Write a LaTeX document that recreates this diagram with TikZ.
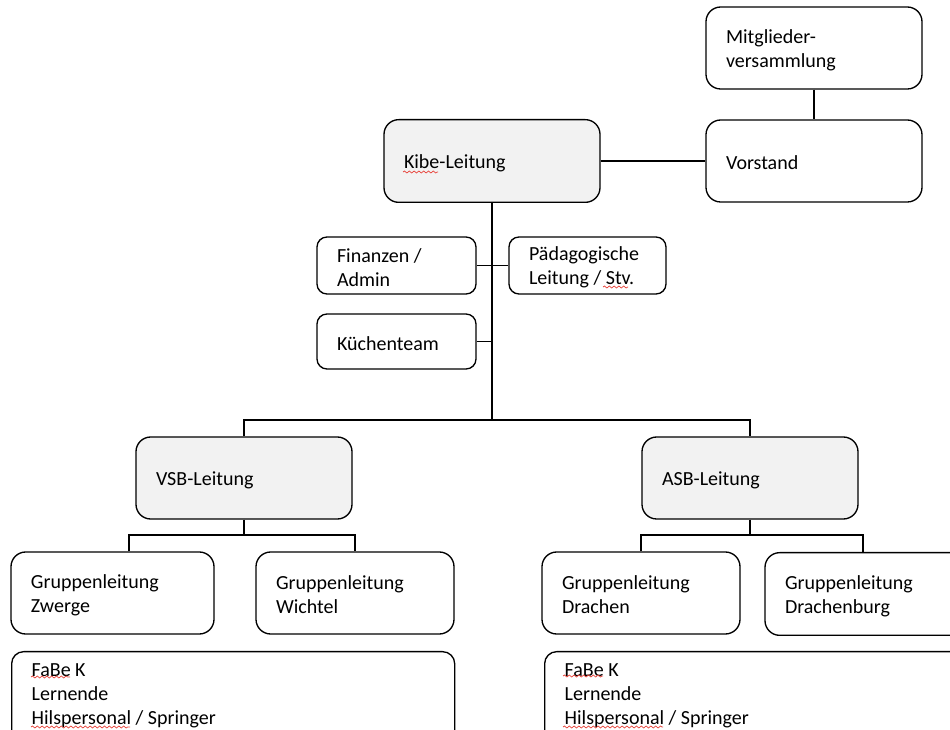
\documentclass[tikz,border=0pt]{standalone}
\usepackage{fontspec}
\setmainfont{Carlito}
\usetikzlibrary{decorations.pathmorphing}
\definecolor{boxgray}{HTML}{F2F2F2}
\definecolor{spellred}{HTML}{E8473F}
\tikzset{
  box/.style={draw=black, line width=1pt, rounded corners=11pt, align=flush left,
    inner xsep=15pt, inner ysep=3pt, text height=13.5pt, font=\fontsize{15}{18}\selectfont},
  smallbox/.style={box, rounded corners=7.5pt},
  listbox/.style={draw=black, line width=1pt, rounded corners=9pt, align=flush left,
    inner xsep=15pt, inner ysep=9pt, anchor=north west, text depth=90pt,
    font=\fontsize{15}{18}\selectfont},
  grey/.style={fill=boxgray},
  conn/.style={draw=black, line width=0.8pt},
  trunk/.style={draw=black, line width=1.9pt},
  spell/.style={draw=spellred, line width=0.55pt, decorate,
    decoration={snake, amplitude=0.75pt, segment length=3.6pt}},
}
\begin{document}
\begin{tikzpicture}[x=0.75pt, y=-0.75pt]
\useasboundingbox (0,0) rectangle (950,730);
\clip (0,0) rectangle (950,730);
\fill[white] (0,0) rectangle (950,730);

% top
\node[box, text width=132pt, minimum height=61.5pt] (mv) at (814,48) {Mitglieder-\\versammlung};
\node[box, text width=132pt, minimum height=61.5pt] (vorstand) at (814,161) {Vorstand};
\node[box, grey, text width=132pt, minimum height=62pt] (kibe) at (492,161) {Kibe-Leitung};

% staff
\node[smallbox, text width=89.25pt, minimum height=42.75pt] (fin) at (396.5,265.5) {Finanzen /\\Admin};
\node[smallbox, text width=87.75pt, minimum height=42.75pt] (paed) at (587.5,265.5) {Pädagogische\\Leitung / Stv.};
\node[smallbox, text width=89.25pt, minimum height=41.25pt] (kue) at (396.5,341.5) {Küchenteam};

% section heads
\node[box, grey, text width=132pt, minimum height=61.5pt] (vsb) at (244,478) {VSB-Leitung};
\node[box, grey, text width=132pt, minimum height=61.5pt] (asb) at (750,478) {ASB-Leitung};

% groups
\node[box, text width=122.25pt, minimum height=61.5pt] (zw) at (112.5,593) {Gruppenleitung\\Zwerge};
\node[box, text width=118.5pt, minimum height=61.5pt] (wi) at (355,593) {Gruppenleitung\\Wichtel};
\node[box, text width=118.5pt, minimum height=61.5pt] (dr) at (641,593) {Gruppenleitung\\Drachen};
\node[box, text width=138.75pt, minimum height=62pt] (db) at (877.5,594) {Gruppenleitung\\Drachenburg};

% staff lists
\node[listbox, text width=302.25pt] (fabel) at (11,651)
  {FaBe K\\Lernende\\Hilspersonal / Springer};
\node[listbox, text width=304.5pt] (faber) at (544,651)
  {FaBe K\\Lernende\\Hilspersonal / Springer};

% spell-check marks
\draw[spell] (403,172) -- (438,172);
\draw[spell] (603,287) -- (628,287);
\draw[spell] (31,677) -- (70,677);
\draw[spell] (31,727) -- (130,727);
\draw[spell] (563,676) -- (603,676);
\draw[spell] (563,727) -- (663,727);

% connectors
\draw[conn] (mv) -- (vorstand);
\draw[conn] (kibe) -- (vorstand);
\coordinate (j) at (492,420);
\draw[conn] (fin) -- (paed);
\draw[conn] (kue.east) -- (kue.east -| j);
\draw[trunk] (kibe.south) -- (j);
\draw[conn] (vsb.north) |- (j) -| (asb.north);

\coordinate (vj) at (244,535);
\coordinate (vl) at (129,535);
\draw[conn] (vsb.south) -- (vj);
\draw[conn] (vl |- zw.north) -- (vl) -| (wi.north);

\coordinate (aj) at (750,535);
\coordinate (ar) at (863,535);
\draw[conn, line width=1.2pt] (asb.south) -- (aj);
\draw[conn] (dr.north) |- (aj) -- (ar) -- (ar |- db.north);
\end{tikzpicture}
\end{document}
